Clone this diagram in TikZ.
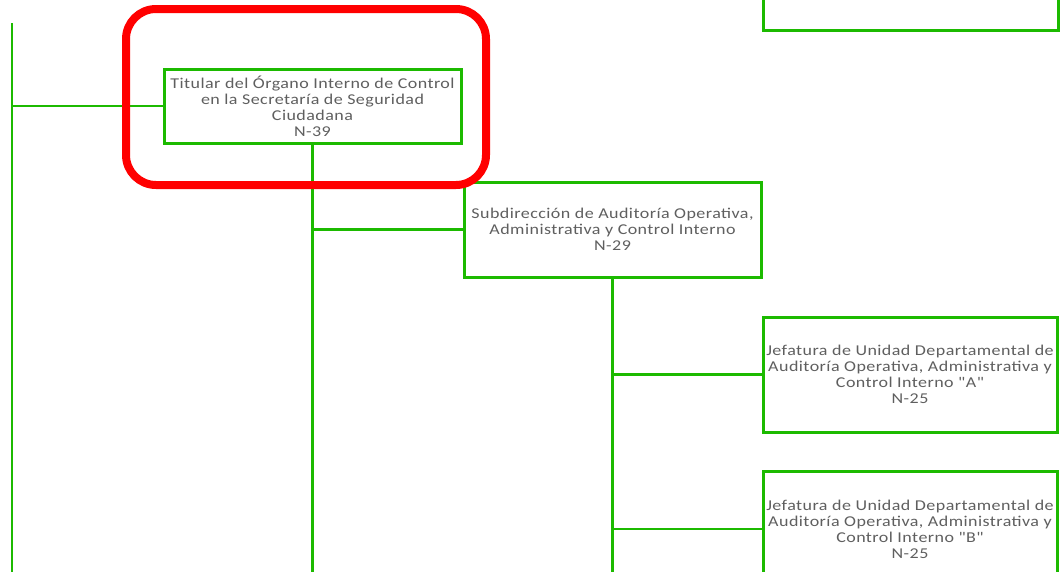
\documentclass[tikz,border=0pt]{standalone}
\usepackage{fontspec}
\setmainfont{Carlito}[FakeStretch=1.2,LetterSpace=3,Ligatures=TeXOff]
\definecolor{orggreen}{RGB}{28,186,0}
\definecolor{txtgray}{RGB}{95,95,95}
\definecolor{hlred}{RGB}{255,0,0}
\begin{document}
\begin{tikzpicture}[x=1pt,y=-1pt,
  unitbox/.style={draw=orggreen,line width=3pt,fill=white,align=center,
    text=txtgray,inner sep=0pt,font=\fontsize{15}{16}\selectfont},
  link/.style={draw=orggreen,line width=2.6pt}]
\useasboundingbox (0,0) rectangle (1061,571);
\clip (0,0) rectangle (1061,571);
\coordinate (ltop) at (12,23);
\coordinate (lbot) at (12,575);
\coordinate (bot) at (0,575);
\node[unitbox,minimum width=295pt,minimum height=100pt] (top) at (910.5,-20) {};
\node[unitbox,minimum width=297pt,minimum height=74pt] (titular) at (312.5,106)
  {Titular del Órgano Interno de Control\\en la Secretaría de Seguridad\\Ciudadana\\N-39};
\node[unitbox,minimum width=297pt,minimum height=95pt] (subdir) at (612.5,229.5)
  {Subdirección de Auditoría Operativa,\\Administrativa y Control Interno\\N-29};
\node[unitbox,minimum width=294pt,minimum height=115pt] (jefa) at (910,374.5)
  {Jefatura de Unidad Departamental de\\Auditoría Operativa, Administrativa y\\Control Interno "A"\\N-25};
\node[unitbox,minimum width=294pt,minimum height=115pt] (jefb) at (910,529)
  {Jefatura de Unidad Departamental de\\Auditoría Operativa, Administrativa y\\Control Interno "B"\\N-25};
\draw[link] (ltop) -- (lbot);
\draw[link] (titular.west) -- (titular.west -| ltop);
\draw[link] (titular.south) -- (titular.south |- bot);
\draw[link] (subdir.west) -- (subdir.west -| titular.south);
\draw[link] (subdir.south) -- (subdir.south |- bot);
\draw[link] (jefa.west) -- (jefa.west -| subdir.south);
\draw[link] (jefb.west) -- (jefb.west -| subdir.south);
\draw[hlred,line width=8pt,rounded corners=30pt] (126,9) rectangle (486,185);
\end{tikzpicture}
\end{document}
